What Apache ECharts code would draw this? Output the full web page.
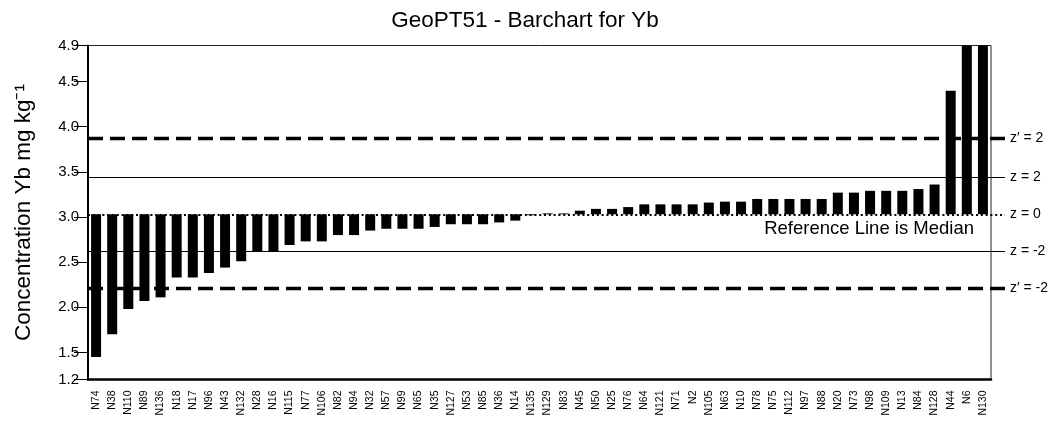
<!DOCTYPE html>
<html>
<head>
<meta charset="utf-8">
<script src="https://cdn.jsdelivr.net/npm/echarts@6/dist/echarts.min.js"></script>
<style>
  html, body { margin: 0; padding: 0; background: #fff; }
  #chart { width: 1050px; height: 426px; }
</style>
</head>
<body>
<div id="chart"></div>
<script>
// Laboratories, sorted by reported Yb concentration
const categories = [
  'N74', 'N38', 'N110', 'N89', 'N136', 'N18', 'N17', 'N96', 'N43', 'N132',
  'N28', 'N16', 'N115', 'N77', 'N106', 'N82', 'N94', 'N32', 'N57', 'N99',
  'N65', 'N35', 'N127', 'N53', 'N85', 'N36', 'N14', 'N135', 'N129', 'N83',
  'N45', 'N50', 'N25', 'N76', 'N64', 'N121', 'N71', 'N2', 'N105', 'N63',
  'N10', 'N78', 'N75', 'N112', 'N97', 'N88', 'N20', 'N73', 'N98', 'N109',
  'N13', 'N84', 'N128', 'N44', 'N6', 'N130'
];

// Reported Yb, mg/kg
const ybValues = [
  1.45, 1.70, 1.98, 2.07, 2.11, 2.33, 2.33, 2.38, 2.44, 2.51,
  2.62, 2.62, 2.69, 2.73, 2.73, 2.80, 2.80, 2.85, 2.87, 2.87,
  2.87, 2.89, 2.92, 2.92, 2.92, 2.94, 2.96, 3.02, 3.04, 3.04,
  3.07, 3.09, 3.09, 3.11, 3.14, 3.14, 3.14, 3.14, 3.16, 3.17,
  3.17, 3.20, 3.20, 3.20, 3.20, 3.20, 3.27, 3.27, 3.29, 3.29,
  3.29, 3.31, 3.36, 4.40, 5.30, 5.50
];

// z-score limits (z) and target-based limits (z')
const zLevels = [3.44, 2.62];
const zLabels = ['z = 2', 'z = -2'];
const zPrimeLevels = [3.87, 2.21];
const zPrimeLabels = ['z\u2032 = 2', 'z\u2032 = -2'];

// Value axis tick positions
const yTicks = [1.2, 1.5, 2.0, 2.5, 3.0, 3.5, 4.0, 4.5, 4.9];

// Median of the reported values = reference line
const sorted = ybValues.slice().sort((a, b) => a - b);
const mid = sorted.length / 2;
const median = sorted.length % 2
  ? sorted[Math.floor(mid)]
  : (sorted[mid - 1] + sorted[mid]) / 2;

// Bars hang from the median: invisible base + visible deviation
const baseValues = ybValues.map(v => Math.min(v, median));
const devValues = ybValues.map(v => Math.abs(v - median));

const FONT = 'Liberation Sans, Arial, sans-serif';
const GRID_LEFT = 88;
const LINE_END_X = 1005;

function refLine(value, text, lineStyle) {
  return [
    {
      x: GRID_LEFT, yAxis: value,
      lineStyle: lineStyle,
      label: {
        show: true, position: 'end', distance: 5, formatter: text,
        color: '#000', fontSize: 14, fontFamily: FONT
      }
    },
    { x: LINE_END_X, yAxis: value }
  ];
}

const dashedStyle = { type: [15, 7], width: 3.4, color: '#000', cap: 'butt' };
const solidStyle = { type: 'solid', width: 1.2, color: '#000' };
const dottedStyle = { type: [2, 2.8], width: 2, color: '#000' };

const refData = [];
zPrimeLevels.forEach((v, i) => refData.push(refLine(v, zPrimeLabels[i], dashedStyle)));
zLevels.forEach((v, i) => refData.push(refLine(v, zLabels[i], solidStyle)));
refData.push(refLine(median, 'z = 0', dottedStyle));
// caption under the median line, inside the plot
refData.push({
  yAxis: median,
  lineStyle: { width: 1, color: 'rgba(0,0,0,0)' },
  label: {
    show: true, position: 'insideEndBottom', distance: [17, 5],
    formatter: 'Reference Line is Median',
    color: '#000', fontSize: 18.5, fontFamily: FONT
  }
});

const chart = echarts.init(document.getElementById('chart'), null, { renderer: 'canvas' });

chart.setOption({
  animation: false,
  backgroundColor: '#fff',
  title: {
    text: 'GeoPT51 - Barchart for Yb',
    left: 'center',
    top: 4,
    textStyle: { fontSize: 22.5, fontWeight: 'normal', color: '#000', fontFamily: FONT }
  },
  grid: {
    left: GRID_LEFT, right: 59, top: 45.5, bottom: 46.5,
    show: true, borderColor: '#222', borderWidth: 1, backgroundColor: 'transparent'
  },
  xAxis: {
    type: 'category',
    data: categories,
    axisLine: { show: true, lineStyle: { color: '#000', width: 2.5 } },
    axisTick: { show: false },
    axisLabel: {
      rotate: 90, interval: 0, margin: 11,
      fontSize: 10.5, color: '#000', fontFamily: FONT
    },
    splitLine: { show: false }
  },
  yAxis: {
    type: 'value',
    min: 1.2,
    max: 4.9,
    name: 'Concentration Yb mg kg\u207B\u00B9',
    nameLocation: 'middle',
    nameGap: 53,
    nameTextStyle: { fontSize: 22.5, color: '#000', fontFamily: FONT },
    axisLine: { show: true, lineStyle: { color: '#000', width: 2 } },
    axisTick: {
      show: true, length: 14, customValues: yTicks,
      lineStyle: { color: '#000', width: 1 }
    },
    axisLabel: {
      customValues: yTicks, margin: 9,
      formatter: v => v.toFixed(1),
      fontSize: 15, color: '#000', fontFamily: FONT
    },
    splitLine: { show: false }
  },
  series: [
    {
      name: 'base',
      type: 'bar',
      stack: 'yb',
      data: baseValues,
      barWidth: 10,
      itemStyle: { color: 'transparent' },
      silent: true
    },
    {
      name: 'Yb',
      type: 'bar',
      stack: 'yb',
      data: devValues,
      barWidth: 10,
      itemStyle: { color: '#000' },
      silent: true
    },
    {
      name: 'reference',
      type: 'line',
      data: [],
      silent: true,
      markLine: {
        silent: true,
        symbol: ['none', 'none'],
        animation: false,
        data: refData
      }
    }
  ]
});
</script>
</body>
</html>
